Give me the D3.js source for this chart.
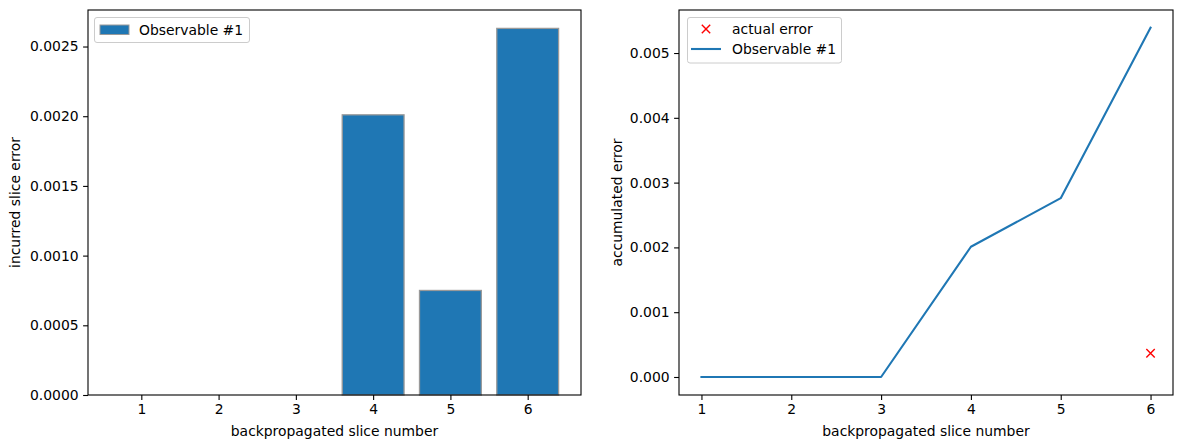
<!DOCTYPE html>
<html>
<head>
<meta charset="utf-8">
<script src="https://cdn.jsdelivr.net/npm/d3@7"></script>
<style>
  body { margin: 0; background: #fff; }
  svg, svg text { font-family: "DejaVu Sans", sans-serif; }
  .tick text { font-size: 13.9px; fill: #000; font-family: "DejaVu Sans", sans-serif; }
  .domain { display: none; }
</style>
</head>
<body>
<svg id="chart"></svg>
<script>
const width = 1182, height = 448;

// data
const slices = [1, 2, 3, 4, 5, 6];
const incurredError = [0, 0, 0, 0.00201, 0.00075, 0.00263];
const accumulatedError = [0, 0, 0, 0.00201, 0.00276, 0.00539];
const actualError = [{ slice: 6, value: 0.000366 }];
const leftTicks = [0, 0.0005, 0.001, 0.0015, 0.002, 0.0025];
const rightTicks = [0, 0.001, 0.002, 0.003, 0.004, 0.005];

const blue = "#1f77b4";

const svg = d3.select("#chart")
    .attr("width", width)
    .attr("height", height);

// axes boxes
const left = { x0: 88, x1: 581, y0: 10, y1: 395 };
const right = { x0: 679, x1: 1173, y0: 10, y1: 395 };

function frame(box, xScale, yScale, yTicks, yFmt, yLabel, labelGap) {
    const g = svg.append("g");
    g.append("g")
        .attr("transform", `translate(0,${box.y1})`)
        .call(d3.axisBottom(xScale).tickValues(slices).tickSize(4.9).tickPadding(4.5).tickFormat(d3.format("d")))
        .call(a => a.attr("font-family", null).attr("font-size", null))
        .call(a => a.selectAll(".tick line").attr("stroke", "#000").attr("stroke-width", 1.1))
        .call(a => a.selectAll(".tick text").attr("dy", "0.71em"));
    g.append("g")
        .attr("transform", `translate(${box.x0},0)`)
        .call(d3.axisLeft(yScale).tickValues(yTicks).tickSize(4.9).tickPadding(4.5).tickFormat(yFmt))
        .call(a => a.attr("font-family", null).attr("font-size", null))
        .call(a => a.selectAll(".tick line").attr("stroke", "#000").attr("stroke-width", 1.1));
    g.append("rect")
        .attr("x", box.x0).attr("y", box.y0)
        .attr("width", box.x1 - box.x0).attr("height", box.y1 - box.y0)
        .attr("fill", "none").attr("stroke", "#000").attr("stroke-width", 1.1);
    g.append("text")
        .attr("x", (box.x0 + box.x1) / 2).attr("y", 436)
        .attr("text-anchor", "middle").attr("font-size", "13.9px")
        .text("backpropagated slice number");
    g.append("text")
        .attr("transform", `translate(${box.x0 - labelGap},${(box.y0 + box.y1) / 2}) rotate(-90)`)
        .attr("text-anchor", "middle").attr("font-size", "13.9px")
        .text(yLabel);
    return g;
}

// ---- left: incurred slice error (bars)
const xL = d3.scaleLinear().domain([0.31, 6.69]).range([left.x0, left.x1]);
const yL = d3.scaleLinear().domain([0, 0.002762]).range([left.y1, left.y0]);

svg.append("g").selectAll("rect")
    .data(slices)
    .join("rect")
    .attr("x", (d) => xL(d - 0.4))
    .attr("width", xL(0.8) - xL(0))
    .attr("y", (d, i) => yL(incurredError[i]))
    .attr("height", (d, i) => yL(0) - yL(incurredError[i]))
    .attr("fill", blue)
    .attr("stroke", "#999")
    .attr("stroke-width", 1.3);

frame(left, xL, yL, leftTicks, d3.format(".4f"), "incurred slice error", 68);

// legend left
const legL = svg.append("g");
legL.append("rect").attr("x", 94.5).attr("y", 17.5).attr("width", 155).attr("height", 25)
    .attr("rx", 2.5).attr("fill", "#fff").attr("fill-opacity", 0.8).attr("stroke", "#ccc");
legL.append("rect").attr("x", 100).attr("y", 25).attr("width", 29).attr("height", 9.5)
    .attr("fill", blue).attr("stroke", "#999");
legL.append("text").attr("x", 139).attr("y", 34.5).attr("font-size", "13.9px").text("Observable #1");

// ---- right: accumulated error (line)
const xR = d3.scaleLinear().domain([0.75, 6.25]).range([right.x0, right.x1]);
const yR = d3.scaleLinear().domain([-0.000278, 0.005664]).range([right.y1, right.y0]);

svg.append("path")
    .datum(slices)
    .attr("d", d3.line().x(d => xR(d)).y((d, i) => yR(accumulatedError[i])))
    .attr("fill", "none")
    .attr("stroke", blue)
    .attr("stroke-width", 2.1)
    .attr("stroke-linejoin", "round")
    .attr("stroke-linecap", "square");

const cross = (x, y, s) => `M${x - s},${y - s}L${x + s},${y + s}M${x - s},${y + s}L${x + s},${y - s}`;
svg.append("g").selectAll("path")
    .data(actualError)
    .join("path")
    .attr("d", d => cross(xR(d.slice), yR(d.value), 4.2))
    .attr("stroke", "red").attr("stroke-width", 1.4).attr("fill", "none");

frame(right, xR, yR, rightTicks, d3.format(".3f"), "accumulated error", 57);

// legend right
const legR = svg.append("g");
legR.append("rect").attr("x", 687.5).attr("y", 17.5).attr("width", 154).attr("height", 45.5)
    .attr("rx", 2.5).attr("fill", "#fff").attr("fill-opacity", 0.8).attr("stroke", "#ccc");
legR.append("path").attr("d", cross(706, 29, 4.2)).attr("stroke", "red").attr("stroke-width", 1.4);
legR.append("line").attr("x1", 691).attr("x2", 721).attr("y1", 49).attr("y2", 49)
    .attr("stroke", blue).attr("stroke-width", 2.1);
legR.append("text").attr("x", 732).attr("y", 34).attr("font-size", "13.9px").text("actual error");
legR.append("text").attr("x", 732).attr("y", 54).attr("font-size", "13.9px").text("Observable #1");
</script>
</body>
</html>
